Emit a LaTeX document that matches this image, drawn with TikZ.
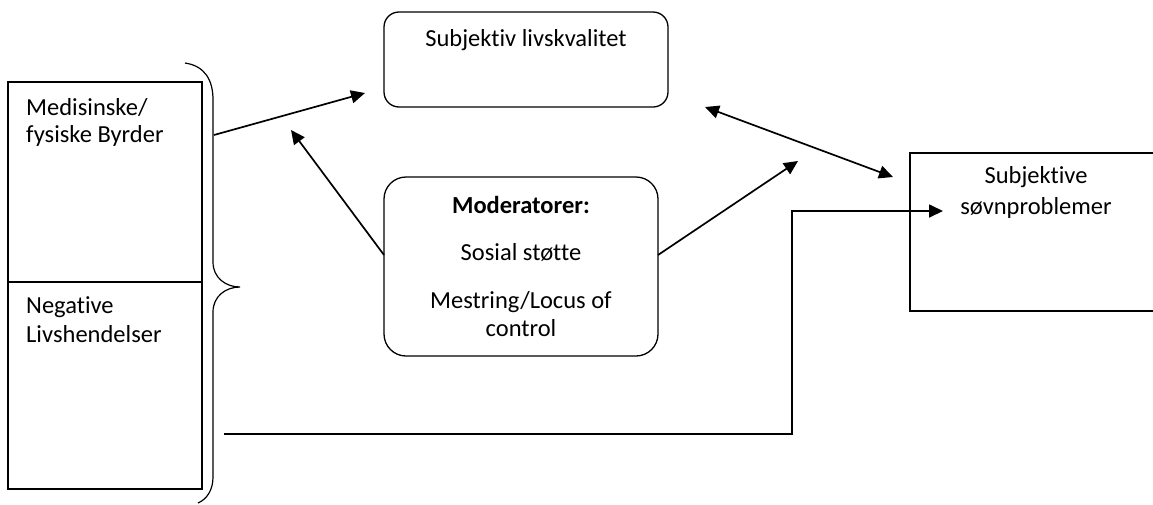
\documentclass[tikz,border=0pt]{standalone}
\usepackage{fontspec}
\setmainfont{Carlito}[Ligatures=NoCommon]
\usetikzlibrary{arrows.meta, positioning}

\begin{document}
\begin{tikzpicture}[x=1pt,y=-1pt]
	\tikzset{box/.style={draw=black, line width=1.3pt, inner sep=0pt},
		roundbox/.style={box, rounded corners=18pt},
		txt/.style={inner sep=0pt, anchor=base, font=\fontsize{24.5}{28}\selectfont},
		link/.style={line width=1.7pt, -{Triangle[length=14pt,width=13pt]}}}
	
	\useasboundingbox (0,0) rectangle (1153,504);
	
	% boxes
	\node[box, minimum width=194pt, minimum height=200pt] (burden) at (105,182) {};
	\node[box, minimum width=194pt, minimum height=207pt] (events) at (105,385.5) {};
	\node[roundbox, rounded corners=15pt, minimum width=284pt, minimum height=95pt] (quality) at (526,59.5) {};
	\node[roundbox, rounded corners=22pt, minimum width=274pt, minimum height=179pt] (moderator) at (521,266.5) {};
	\node[box, minimum width=260pt, minimum height=158pt] (sleep) at (1040,232) {};
	
	% texts
	\node[txt, anchor=base west] (burdenA) at (26,115) {Medisinske/};
	\node[txt, anchor=base west] (burdenB) at (26,142) {fysiske Byrder};
	\node[txt, anchor=base west] (eventsA) at (26,313) {Negative};
	\node[txt, anchor=base west] (eventsB) at (26,342) {Livshendelser};
	\node[txt] (qualityA) at (526,46) {Subjektiv livskvalitet};
	\node[txt] (modA) at (521,213) {\bfseries Moderatorer:};
	\node[txt] (modB) at (521,260) {Sosial støtte};
	\node[txt] (modC) at (521,308) {Mestring/Locus of};
	\node[txt] (modD) at (521,336) {control};
	\node[txt] (sleepA) at (1036,183) {Subjektive};
	\node[txt] (sleepB) at (1036,214) {søvnproblemer};
	
	% brace round the two left boxes
	\draw[line width=1.2pt] (185,63) .. controls (205,66) and (213,80) .. (213,100)
		-- (213,262) .. controls (213,278) and (226,287) .. (240,287)
		.. controls (226,287) and (213,296) .. (213,312)
		-- (213,477) .. controls (213,490) and (207,499) .. (198,503);
	
	% connector end points
	\coordinate (braceOut) at (214,135);
	\coordinate (qualityIn) at (365,93);
	\coordinate (modLeft) at (384,255);
	\coordinate (modLeftTip) at (291,130);
	\coordinate (modRight) at (658,255);
	\coordinate (modRightTip) at (798,161);
	\coordinate (qualityEnd) at (705,107);
	\coordinate (sleepEnd) at (893,177);
	\coordinate (eventsOut) at (224,434);
	\coordinate (sleepIn) at (943,211);
	
	\draw[link] (braceOut) -- (qualityIn);
	\draw[link] (modLeft) -- (modLeftTip);
	\draw[link] (modRight) -- (modRightTip);
	\draw[link, {Triangle[length=14pt,width=13pt]}-{Triangle[length=14pt,width=13pt]}] (qualityEnd) -- (sleepEnd);
	\draw[link] (eventsOut) -- ++(568,0) |- (sleepIn);
	
\end{tikzpicture}
\end{document}
